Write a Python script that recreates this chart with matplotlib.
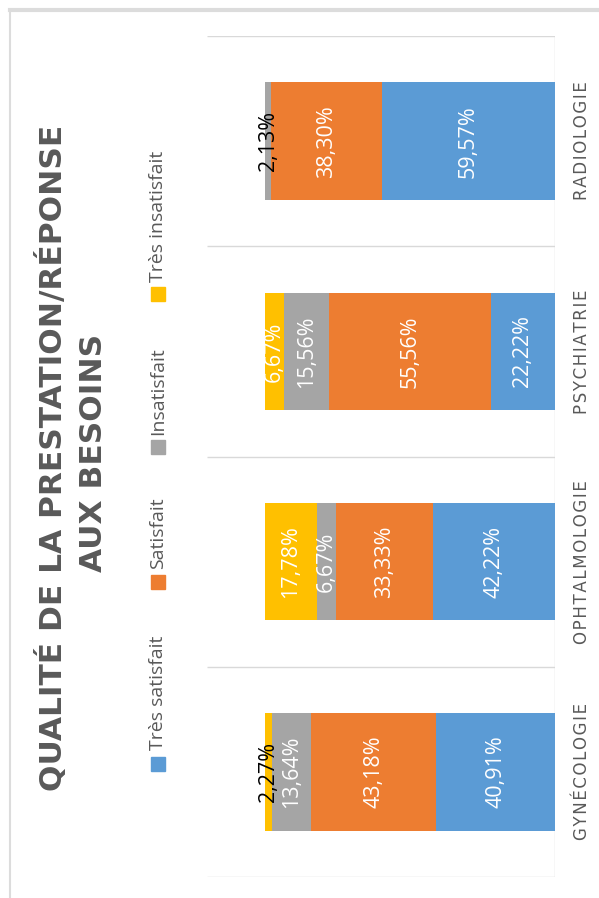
import numpy as np
import matplotlib.pyplot as plt
from matplotlib.patches import Rectangle
from matplotlib.lines import Line2D

# data
categories = ['GYNÉCOLOGIE', 'OPHTALMOLOGIE', 'PSYCHIATRIE', 'RADIOLOGIE']
series = ['Très satisfait', 'Satisfait', 'Insatisfait', 'Très insatisfait']
tres_satisfait = [40.91, 42.22, 22.22, 59.57]
satisfait = [43.18, 33.33, 55.56, 38.30]
insatisfait = [13.64, 6.67, 15.56, 2.13]
tres_insatisfait = [2.27, 17.78, 6.67, 0.0]
values = [tres_satisfait, satisfait, insatisfait, tres_insatisfait]
colors = ['#5B9BD5', '#ED7D31', '#A5A5A5', '#FFC000']
title_lines = ['QUALITÉ DE LA PRESTATION/RÉPONSE', 'AUX BESOINS']

W, H = 599, 898
fig = plt.figure(figsize=(W / 100, H / 100), dpi=100)
ax = fig.add_axes([207 / W, 1 - 877 / H, (555 - 207) / W, (877 - 36) / H])

y = np.arange(len(categories))
left = np.zeros(len(categories))
for vals, col in zip(values, colors):
    v = np.array(vals) / 100
    ax.barh(y, v, left=left, height=0.56, color=col, zorder=2)
    for yi, li, vi in zip(y, left, vals):
        if vi <= 0:
            continue
        tc = 'black' if vi < 3 else 'white'
        ax.text(li + vi / 200, yi, f'{vi:.2f}%'.replace('.', ','), rotation=90,
                ha='center', va='center', color=tc, fontsize=15.5,
                family='Open Sans', zorder=3)
    left += v

ax.set_xlim(1.2, 0)
ax.set_ylim(-0.5, len(categories) - 0.5)
ax.hlines(np.arange(-0.5, len(categories)), 0, 1.2, color='#D9D9D9', lw=1, zorder=1)
ax.axvline(0, color='#D9D9D9', lw=1, zorder=1)
for s in ax.spines.values():
    s.set_visible(False)
ax.set_xticks([])
ax.set_yticks([])

for yi, cat in zip(y, categories):
    ax.text(-0.062, yi, '\u200a'.join(cat), rotation=90, ha='left', va='center',
            color='#595959', fontsize=12, family='DejaVu Sans', clip_on=False)

# title
fig.text(52 / W, 1 - 458 / H, title_lines[0], rotation=90, ha='center', va='center',
         fontsize=22.5, fontweight='bold', color='#595959', family='DejaVu Sans')
fig.text(94 / W, 1 - 453 / H, title_lines[1], rotation=90, ha='center', va='center',
         fontsize=22.5, fontweight='bold', color='#595959', family='DejaVu Sans')

# legend
sq_y = [764, 582, 447, 294]
txt_y = [750, 569, 435, 282]
for lab, col, sy, ty in zip(series, colors, sq_y, txt_y):
    fig.add_artist(Rectangle(((158 - 7) / W, 1 - (sy + 7) / H), 14 / W, 14 / H,
                             transform=fig.transFigure, color=col))
    fig.text(158 / W, 1 - ty / H, lab, rotation=90, ha='center', va='bottom',
             fontsize=14, color='#595959', family='Open Sans')

# frame
fig.add_artist(Line2D([10 / W, 1], [1 - 10 / H] * 2, transform=fig.transFigure,
                      color='#DCDCDC', lw=3))
fig.add_artist(Line2D([10 / W] * 2, [0, 1 - 10 / H], transform=fig.transFigure,
                      color='#DCDCDC', lw=1.5))

fig.savefig('out.png', dpi=100)
